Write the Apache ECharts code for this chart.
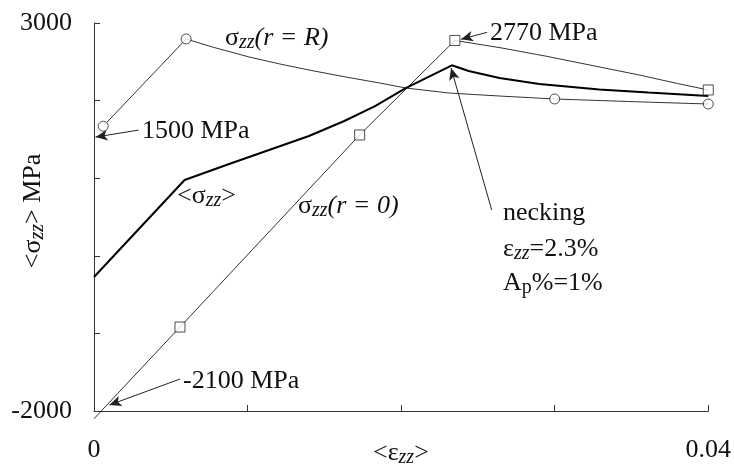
<!DOCTYPE html>
<html><head><meta charset="utf-8">
<script src="https://cdn.jsdelivr.net/npm/echarts@6/dist/echarts.min.js"></script>
<style>html,body{margin:0;padding:0;background:#fff}#c{width:734px;height:466px}</style>
</head><body><div id="c"></div>
<script>
// σzz(r = R) : surface stress (line path and circle markers)
const surfaceLine = [[0.0006,1670],[0.006,2794],[0.0077,2691],[0.0101,2562],[0.0121,2472],[0.0140,2394],[0.0164,2304],[0.0186,2227],[0.0203,2162],[0.0231,2098],[0.0264,2059],[0.03,2021],[0.0348,1988],[0.04,1956]];
const surfaceMarks = [[0.0006,1670],[0.006,2794],[0.03,2021],[0.04,1956]];
// σzz(r = 0) : axis stress (line path and square markers)
const centerLine = [[0,-2100],[0.0056,-918],[0.0173,1557],[0.0235,2775],[0.0265,2680],[0.0295,2570],[0.0325,2450],[0.0355,2330],[0.0380,2220],[0.04,2137]];
const centerMarks = [[0.0056,-918],[0.0173,1557],[0.0235,2775],[0.04,2137]];
// <σzz> : mean stress
const meanLine = [[0,-273],[0.0059,977],[0.0088,1183],[0.0114,1363],[0.0140,1544],[0.0163,1737],[0.0183,1930],[0.0203,2162],[0.0233,2455],[0.0244,2381],[0.0264,2291],[0.0290,2214],[0.0329,2143],[0.0361,2104],[0.04,2059]];
// tick labels shown
const xLabelValues = [0, 0.04];
const yLabelValues = [-2000, 3000];
// annotation arrows [from, to] in data units
const arrows = [
  [[0.0029,1620],[0.0001,1530]],
  [[0.0056,-1588],[0.0010,-1923]],
  [[0.0256,2880],[0.0239,2790]],
  [[0.0259,590],[0.02325,2420]]
];

const FONT = '"Liberation Serif", "Times New Roman", serif';
const INK = '#111';
const rich = {
  n: {fontFamily: FONT, fontSize: 26, lineHeight: 30, fill: INK},
  i: {fontFamily: FONT, fontSize: 26, lineHeight: 30, fontStyle: 'italic', fill: INK},
  s: {fontFamily: FONT, fontSize: 20, lineHeight: 14, fontStyle: 'italic', verticalAlign: 'bottom', fill: INK},
  u: {fontFamily: FONT, fontSize: 20, lineHeight: 14, verticalAlign: 'bottom', fill: INK}
};
function txt(x, y, text, extra) {
  return Object.assign({
    type: 'text', x: x, y: y, z: 100,
    style: {text: text, rich: rich, fontFamily: FONT, fontSize: 26, fill: INK,
            align: 'left', textAlign: 'left', verticalAlign: 'middle', textVerticalAlign: 'middle'}
  }, extra || {});
}
const near = (v, arr) => arr.some(a => Math.abs(a - v) < 1e-9);

const chart = echarts.init(document.getElementById('c'), null, {renderer: 'canvas'});
chart.setOption({
  animation: false,
  backgroundColor: '#fff',
  grid: {left: 94, right: 24, top: 23, bottom: 55},
  xAxis: {
    type: 'value', min: 0, max: 0.04, interval: 0.01,
    axisLine: {onZero: false, lineStyle: {color: '#333', width: 1}},
    axisTick: {inside: true, length: 6, lineStyle: {color: '#333'}},
    splitLine: {show: false},
    axisLabel: {margin: 26, color: INK, fontFamily: FONT, fontSize: 26,
      formatter: v => near(v, xLabelValues) ? (v === 0 ? '0' : String(+v.toFixed(4))) : ''}
  },
  yAxis: {
    type: 'value', min: -2000, max: 3000, interval: 1000,
    axisLine: {show: true, onZero: false, lineStyle: {color: '#333', width: 1}},
    axisTick: {show: true, inside: true, length: 6, lineStyle: {color: '#333'}},
    splitLine: {show: false},
    axisLabel: {margin: 22, color: INK, fontFamily: FONT, fontSize: 26,
      formatter: v => near(v, yLabelValues) ? String(v) : ''}
  },
  series: [
    {type: 'line', data: surfaceLine, showSymbol: false, symbol: 'none', clip: false,
     lineStyle: {color: '#333', width: 1}, z: 2},
    {type: 'scatter', data: surfaceMarks, symbol: 'circle', symbolSize: 10,
     itemStyle: {color: '#fff', borderColor: '#222', borderWidth: 1}, z: 5},
    {type: 'line', data: centerLine, showSymbol: false, symbol: 'none', clip: false,
     lineStyle: {color: '#333', width: 1}, z: 2,
     markLine: {silent: true, animation: false, symbol: ['none', 'arrow'], symbolSize: [8, 12],
       lineStyle: {color: '#222', width: 1, type: 'solid'}, label: {show: false},
       data: arrows.map(a => [{coord: a[0]}, {coord: a[1]}])}},
    {type: 'scatter', data: centerMarks, symbol: 'rect', symbolSize: 10,
     itemStyle: {color: '#fff', borderColor: '#222', borderWidth: 1}, z: 5},
    {type: 'line', data: meanLine, showSymbol: false, symbol: 'none', clip: false,
     lineStyle: {color: '#000', width: 2}, z: 3}
  ],
  graphic: [
    txt(225, 38, '{n|σ}{s|zz}{i|(r = R)}'),
    txt(142, 131, '{n|1500 MPa}'),
    txt(183, 381, '{n|-2100 MPa}'),
    txt(490, 33, '{n|2770 MPa}'),
    txt(177, 196, '{n|<σ}{s|zz}{n|>}'),
    txt(298, 206, '{n|σ}{s|zz}{i|(r = 0)}'),
    txt(503, 213, '{n|necking}'),
    txt(503, 249, '{n|ε}{s|zz}{n|=2.3%}'),
    txt(503, 283, '{n|A}{u|p}{n|%=1%}'),
    txt(33, 211, '', {rotation: Math.PI / 2,
      style: {text: '{n|<σ}{s|zz}{n|> MPa}', rich: rich, fontFamily: FONT, fontSize: 26, fill: INK,
        align: 'center', textAlign: 'center', verticalAlign: 'middle', textVerticalAlign: 'middle'}}),
    txt(373, 453, '{n|<ε}{s|zz}{n|>}')
  ]
});
</script>
</body></html>
